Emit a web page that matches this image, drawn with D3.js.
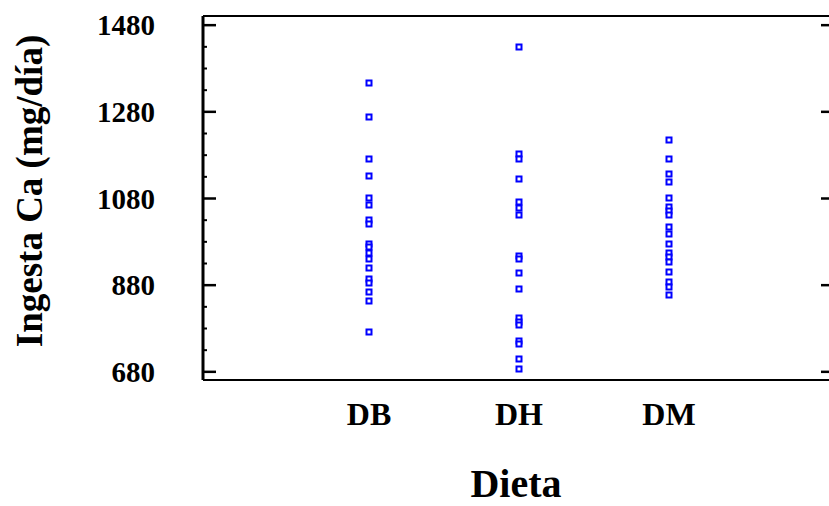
<!DOCTYPE html>
<html>
<head>
<meta charset="utf-8">
<script src="https://cdn.jsdelivr.net/npm/d3@7/dist/d3.min.js"></script>
<style>
  html, body { margin: 0; padding: 0; background: #fff; }
  svg text { font-family: "Liberation Serif", "Times New Roman", serif; font-weight: bold; fill: #000; }
</style>
</head>
<body>
<svg id="chart" width="829" height="506"></svg>
<script>
// Calcium intake (mg/día) per subject, grouped by diet
const categories = ["DB", "DH", "DM"];
const dbValues = [1346, 1268, 1169, 1130, 1080, 1063, 1030, 1019, 975, 968, 954, 940, 919, 894, 885, 864, 842, 770];
const dhValues = [1429, 1182, 1169, 1124, 1070, 1058, 1041, 947, 940, 908, 870, 804, 795, 786, 749, 742, 709, 686];
const dmValues = [1213, 1170, 1136, 1117, 1080, 1060, 1049, 1040, 1014, 996, 974, 954, 943, 933, 909, 887, 874, 857];
const seriesValues = [dbValues, dhValues, dmValues];
const yTickValues = [680, 880, 1080, 1280, 1480];
const yMinorTicks = d3.range(680, 1500, 50);
const yTitle = "Ingesta Ca (mg/día)";
const xTitle = "Dieta";

const svg = d3.select("#chart");
const plotLeft = 203, plotRight = 829, plotTop = 16, plotBottom = 380;

const y = d3.scaleLinear().domain([660, 1500]).range([plotBottom, plotTop]);
const x = d3.scalePoint().domain(categories).range([369, 669]);

// plot frame (top and bottom edges)
svg.append("line").attr("x1", plotLeft).attr("x2", plotRight).attr("y1", plotTop).attr("y2", plotTop)
  .attr("stroke", "#000").attr("stroke-width", 2);
svg.append("line").attr("x1", plotLeft).attr("x2", plotRight).attr("y1", plotBottom).attr("y2", plotBottom)
  .attr("stroke", "#000").attr("stroke-width", 2);

// left axis: major ticks with labels, minor ticks inward
const yAxis = d3.axisLeft(y).tickValues(yTickValues).tickFormat(d3.format("d"))
  .tickSize(-13).tickPadding(48);
const gy = svg.append("g").attr("transform", `translate(${plotLeft},0)`).call(yAxis);
gy.select(".domain").attr("stroke-width", 3).attr("d", `M0,${plotTop}V${plotBottom}`);
gy.selectAll(".tick line").attr("stroke-width", 2.5);
gy.selectAll(".tick text")
  .style("font-size", "29px")
  .style("font-family", "'Liberation Serif', serif")
  .style("font-weight", "bold")
  .attr("dy", "0.35em");

const gyMinor = svg.append("g").attr("transform", `translate(${plotLeft},0)`)
  .call(d3.axisLeft(y).tickValues(yMinorTicks.filter(v => !yTickValues.includes(v))).tickSize(-4).tickFormat(""));
gyMinor.select(".domain").remove();
gyMinor.selectAll(".tick line").attr("stroke-width", 2);

// right axis: inward major ticks only
const gr = svg.append("g").attr("transform", `translate(${plotRight},0)`)
  .call(d3.axisRight(y).tickValues(yTickValues).tickSize(-8).tickFormat(""));
gr.select(".domain").remove();
gr.selectAll(".tick line").attr("stroke-width", 2.5);

// category labels
svg.append("g").selectAll("text").data(categories).join("text")
  .attr("x", d => x(d)).attr("y", 425)
  .attr("text-anchor", "middle")
  .style("font-size", "32px")
  .text(d => d);

// axis titles
svg.append("text")
  .attr("transform", `translate(42,191) rotate(-90)`)
  .attr("text-anchor", "middle")
  .style("font-size", "37px")
  .text(yTitle);

svg.append("text")
  .attr("x", 516).attr("y", 497)
  .attr("text-anchor", "middle")
  .style("font-size", "40px")
  .text(xTitle);

// points: open blue squares
const points = [];
categories.forEach((c, i) => seriesValues[i].forEach(v => points.push({ c, v })));
svg.append("g").selectAll("rect").data(points).join("rect")
  .attr("x", d => Math.round(x(d.c)) - 2.5)
  .attr("y", d => Math.round(y(d.v)) - 2.5)
  .attr("width", 5).attr("height", 5)
  .attr("fill", "#fff")
  .attr("stroke", "#0000ff")
  .attr("stroke-width", 2);
</script>
</body>
</html>
